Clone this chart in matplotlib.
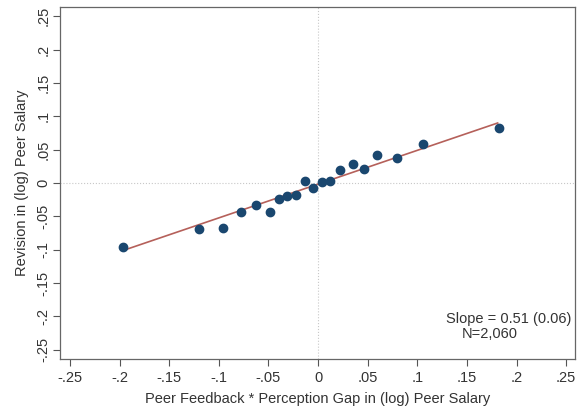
import matplotlib
matplotlib.use("Agg")
from matplotlib import pyplot as plt
from matplotlib import ticker

# binned scatter values
X = [-0.197, -0.120, -0.096, -0.078, -0.062, -0.048, -0.039, -0.031, -0.022, -0.013,
     -0.005, 0.004, 0.012, 0.022, 0.035, 0.046, 0.059, 0.080, 0.106, 0.182]
Y = [-0.096, -0.069, -0.068, -0.043, -0.033, -0.043, -0.024, -0.020, -0.018, 0.003,
     -0.008, 0.002, 0.003, 0.019, 0.028, 0.021, 0.042, 0.037, 0.058, 0.082]
FIT_X = [-0.196, 0.181]
FIT_Y = [-0.101, 0.090]
TICKS = [-0.25, -0.2, -0.15, -0.1, -0.05, 0, 0.05, 0.1, 0.15, 0.2, 0.25]
SLOPE_TEXT = "Slope = 0.51 (0.06)"
N_TEXT = "N=2,060"

NAVY = "#1a476f"
LINE = "#b5605a"
FONT_SIZE = 10.5


def stata_fmt(v, pos=None):
    if abs(v) < 1e-9:
        return "0"
    s = f"{v:g}"
    return s.replace("0.", ".")


plt.rcParams.update({"font.family": ["Liberation Sans", "DejaVu Sans"], "font.size": FONT_SIZE})
fig = plt.figure(figsize=(5.84, 4.11), dpi=100)
ax = fig.add_axes([0.1027, 0.1265, 0.882, 0.8565])

ax.axhline(0, color="#c8c8c8", lw=0.8, ls=":", zorder=1)
ax.axvline(0, color="#c8c8c8", lw=0.8, ls=":", zorder=1)
ax.plot(FIT_X, FIT_Y, color=LINE, lw=1.2, zorder=2)
ax.plot(X, Y, "o", color=NAVY, ms=6, zorder=3)

ax.set_xlim(-0.26, 0.259)
ax.set_ylim(-0.264, 0.264)
ax.set_xticks(TICKS)
ax.set_yticks(TICKS)
ax.xaxis.set_major_formatter(ticker.FuncFormatter(stata_fmt))
ax.yaxis.set_major_formatter(ticker.FuncFormatter(stata_fmt))
ax.tick_params(direction="out", length=5, width=0.8, color="#555555", labelcolor="#333333")
ax.tick_params(axis="y", pad=2)
for lab in ax.get_yticklabels():
    lab.set_rotation(90)
    lab.set_va("center")
for sp in ax.spines.values():
    sp.set_color("#666666")
    sp.set_linewidth(0.9)

ax.set_xlabel("Peer Feedback * Perception Gap in (log) Peer Salary", color="#333333", labelpad=5)
ax.set_ylabel("Revision in (log) Peer Salary", color="#333333", labelpad=5)

ax.text(0.993, 0.114, SLOPE_TEXT, transform=ax.transAxes, ha="right", va="center", color="#333333")
ax.text(0.835, 0.071, N_TEXT, transform=ax.transAxes, ha="center", va="center", color="#333333")

fig.savefig("out.png", dpi=100)
